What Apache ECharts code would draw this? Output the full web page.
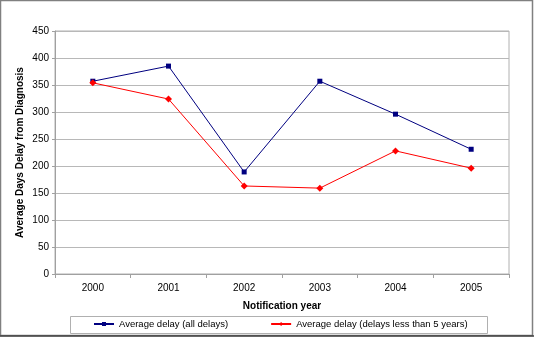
<!DOCTYPE html>
<html><head><meta charset="utf-8">
<script src="https://cdn.jsdelivr.net/npm/echarts@6/dist/echarts.min.js"></script>
<style>html,body{margin:0;padding:0;background:#fff}#c{width:535px;height:338px}</style>
</head><body><div id="c"></div>
<script>
const years = ['2000','2001','2002','2003','2004','2005'];
const allDelays = [357, 385, 189, 357, 296, 231];
const under5 = [354, 324, 163, 159, 228, 196];
const seriesNames = ['Average delay (all delays)', 'Average delay (delays less than 5 years)'];
const yTicks = {min: 0, max: 450, interval: 50};

const chart = echarts.init(document.getElementById('c'), null, {renderer: 'canvas'});
const font = 'Liberation Sans, Arial, sans-serif';
chart.setOption({
  animation: false,
  backgroundColor: '#fff',
  textStyle: {fontFamily: font},
  grid: {left: 55, top: 31, right: 26, bottom: 64, show: true, borderColor: '#b0b0b0', borderWidth: 1},
  graphic: [
    {type: 'rect', shape: {x: 0.5, y: 0.5, width: 532, height: 335}, style: {fill: 'none', stroke: '#808080', lineWidth: 1.5}, silent: true},
    {type: 'line', shape: {x1: 0, y1: 336, x2: 534, y2: 336}, style: {stroke: '#404040', lineWidth: 1.5}, silent: true},
    {type: 'rect', shape: {x: 70.5, y: 316.5, width: 417, height: 17}, style: {fill: 'none', stroke: '#b0b0b0', lineWidth: 1}, silent: true}
  ],
  legend: {
    left: 93, top: 319, itemWidth: 20, itemHeight: 5, itemGap: 42, padding: 0,
    textStyle: {fontSize: 9.5, color: '#000', fontFamily: font},
    data: seriesNames
  },
  xAxis: {
    type: 'category', data: years, boundaryGap: true,
    name: 'Notification year', nameLocation: 'middle', nameGap: 27,
    nameTextStyle: {fontWeight: 'bold', fontSize: 10, color: '#000'},
    axisLine: {lineStyle: {color: '#a0a0a0'}},
    axisTick: {show: true, length: 4, lineStyle: {color: '#a0a0a0'}, alignWithLabel: false},
    axisLabel: {fontSize: 10, color: '#000', margin: 9},
    splitLine: {show: false}
  },
  yAxis: {
    type: 'value', min: yTicks.min, max: yTicks.max, interval: yTicks.interval,
    name: 'Average Days Delay from Diagnosis', nameLocation: 'middle', nameGap: 30, nameMoveOverlap: false,
    nameTextStyle: {fontWeight: 'bold', fontSize: 10, color: '#000'},
    axisLine: {show: true, lineStyle: {color: '#a0a0a0'}},
    axisTick: {show: true, length: 3, lineStyle: {color: '#a0a0a0'}},
    axisLabel: {fontSize: 10, color: '#000', margin: 6},
    splitLine: {lineStyle: {color: '#b8b8b8', width: 1}}
  },
  series: [
    {name: seriesNames[0], type: 'line', data: allDelays, symbol: 'rect', symbolSize: 5,
     lineStyle: {color: '#000080', width: 1}, itemStyle: {color: '#000080'}},
    {name: seriesNames[1], type: 'line', data: under5, symbol: 'diamond', symbolSize: 7,
     lineStyle: {color: '#ff0000', width: 1}, itemStyle: {color: '#ff0000'}}
  ]
});
</script></body></html>
